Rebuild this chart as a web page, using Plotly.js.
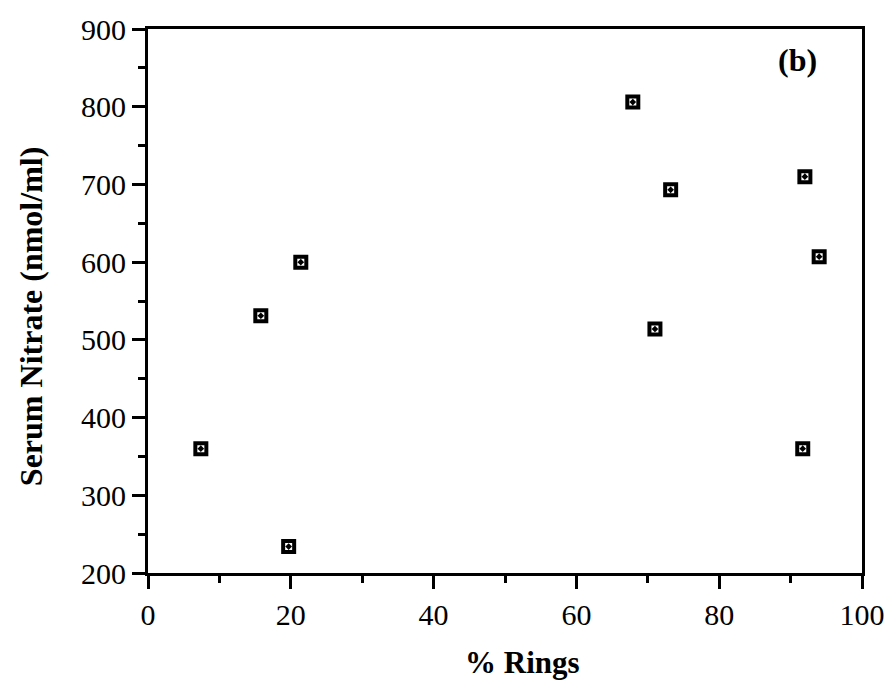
<!DOCTYPE html>
<html>
<head>
<meta charset="utf-8">
<script src="https://cdn.plot.ly/plotly-3.0.1.min.js"></script>
<style>html,body{margin:0;padding:0;background:#fff;}#chart{width:891px;height:687px;}</style>
</head>
<body>
<div id="chart"></div>
<script>
var ringsPct = [7.4, 15.8, 21.4, 19.7, 67.9, 73.2, 71.0, 92.0, 94.0, 91.7];
var serumNitrate = [360, 531, 600, 234, 806, 693, 514, 710, 607, 360];
var xTickVals = [0, 20, 40, 60, 80, 100];
var yTickVals = [200, 300, 400, 500, 600, 700, 800, 900];
var xTitle = '% Rings';
var yTitle = 'Serum Nitrate (nmol/ml)';
var panelLabel = '(b)';

var trace = {
  x: ringsPct,
  y: serumNitrate,
  mode: 'markers',
  type: 'scatter',
  marker: {symbol: 'square-dot', size: 11, color: '#fff', line: {color: '#000', width: 4}},
  showlegend: false,
  hoverinfo: 'x+y'
};

var serif = 'Liberation Serif, Times New Roman, serif';
var axisFont = {family: serif, size: 30, color: '#000'};
var titleFont = {family: serif, size: 31, color: '#000', weight: 'bold'};

var layout = {
  width: 891, height: 687,
  margin: {l: 148, r: 29, t: 29, b: 114},
  paper_bgcolor: '#fff', plot_bgcolor: '#fff',
  xaxis: {
    range: [0, 100], tickvals: xTickVals, ticks: 'outside', ticklen: 13, tickwidth: 3,
    tickcolor: '#000', showline: true, linewidth: 3, linecolor: '#000', mirror: true,
    showgrid: false, zeroline: false, tickfont: axisFont,
    minor: {dtick: 10, ticks: 'outside', ticklen: 7, tickwidth: 3, tickcolor: '#000', showgrid: false}
  },
  yaxis: {
    range: [200, 900], tickvals: yTickVals, ticks: 'outside', ticklen: 13, tickwidth: 3,
    tickcolor: '#000', showline: true, linewidth: 3, linecolor: '#000', mirror: true,
    showgrid: false, zeroline: false, tickfont: axisFont,
    minor: {dtick: 50, ticks: 'outside', ticklen: 7, tickwidth: 3, tickcolor: '#000', showgrid: false}
  },
  annotations: [
    {text: panelLabel, xref: 'paper', yref: 'paper', x: 0.910, y: 0.943, xanchor: 'center', yanchor: 'middle',
     showarrow: false, font: {family: serif, size: 32, color: '#000', weight: 'bold'}},
    {text: xTitle, xref: 'paper', yref: 'paper', x: 0.525, y: -0.165, xanchor: 'center', yanchor: 'middle',
     showarrow: false, font: titleFont},
    {text: yTitle, xref: 'paper', yref: 'paper', x: -0.164, y: 0.472, xanchor: 'center', yanchor: 'middle',
     textangle: -90, showarrow: false, font: {family: serif, size: 32, color: '#000', weight: 'bold'}}
  ]
};

Plotly.newPlot('chart', [trace], layout, {displayModeBar: false, staticPlot: true});
</script>
</body>
</html>
